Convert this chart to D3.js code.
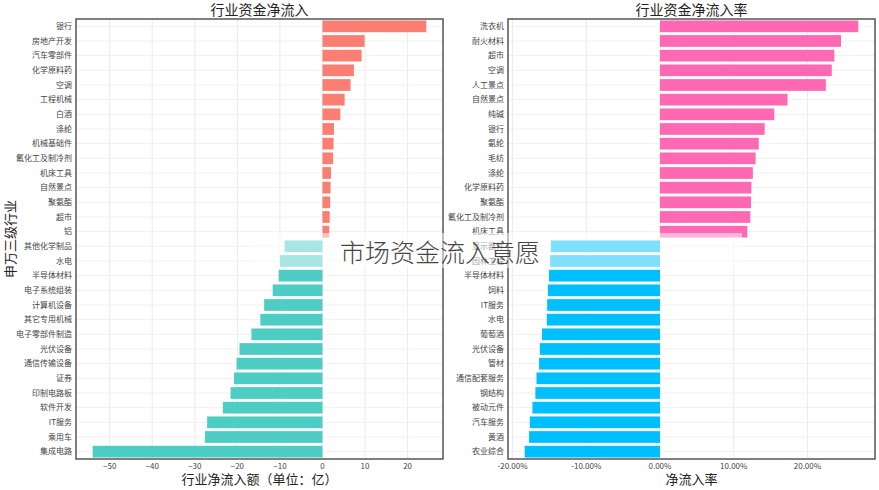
<!DOCTYPE html>
<html>
<head>
<meta charset="utf-8">
<script src="https://cdn.jsdelivr.net/npm/d3@7"></script>
<style>
body { margin: 0; background: #fff; }
text { font-family: "Noto Sans CJK SC", "Noto Sans", sans-serif; }
</style>
</head>
<body>
<div id="vis"></div>
<script>
var w = 879;
var h = 490;

// 行业资金净流入 (亿)
var flowNames = ["银行", "房地产开发", "汽车零部件", "化学原料药", "空调", "工程机械", "白酒", "涤纶",
	"机械基础件", "氟化工及制冷剂", "机床工具", "自然景点", "聚氨酯", "超市", "铝",
	"其他化学制品", "水电", "半导体材料", "电子系统组装", "计算机设备", "其它专用机械", "电子零部件制造",
	"光伏设备", "通信传输设备", "证券", "印制电路板", "软件开发", "IT服务", "乘用车", "集成电路"];
var flowValues = [24.4, 9.9, 9.2, 7.4, 6.6, 5.2, 4.2, 2.7, 2.6, 2.5, 2.0, 1.9, 1.8, 1.7, 1.6,
	-8.9, -10.0, -10.3, -11.7, -13.7, -14.6, -16.7, -19.5, -20.2, -20.8, -21.6, -23.4, -27.1, -27.6, -54.0];
var flowTicks = [-50, -40, -30, -20, -10, 0, 10, 20];

// 行业资金净流入率 (%)
var rateNames = ["洗衣机", "耐火材料", "超市", "空调", "人工景点", "自然景点", "纯碱", "银行", "氨纶",
	"毛纺", "涤纶", "化学原料药", "聚氨酯", "氟化工及制冷剂", "机床工具",
	"显示器件", "园林工程", "半导体材料", "饲料", "IT服务", "水电", "葡萄酒", "光伏设备", "管材",
	"通信配套服务", "钢结构", "被动元件", "汽车服务", "黄酒", "农业综合"];
var rateValues = [26.9, 24.55, 23.65, 23.3, 22.5, 17.3, 15.5, 14.2, 13.4, 12.97, 12.6, 12.4, 12.35, 12.25, 11.85,
	-14.8, -14.9, -15.05, -15.2, -15.3, -15.35, -16.0, -16.3, -16.4, -16.75, -16.9, -17.3, -17.65, -17.75, -18.35];
var rateTicks = [-20, -10, 0, 10, 20];

var svg = d3.select("#vis")
	.append("svg")
	.attr("width", w)
	.attr("height", h);

var plotTop = 19, plotBottom = 459;

function panel(opt) {
	var g = svg.append("g");
	var mn = d3.min(opt.values), mx = d3.max(opt.values);
	var pad = (mx - mn) * 0.05;
	var x = d3.scaleLinear().domain([mn - pad, mx + pad]).range([opt.x0, opt.x1]);
	var y = d3.scaleBand().domain(opt.names).range([plotTop, plotBottom]).paddingInner(0.2).paddingOuter(0.1);

	// grid
	g.selectAll(".vgrid")
		.data(opt.ticks)
		.enter()
		.append("line")
		.attr("x1", function(d) { return x(d); })
		.attr("x2", function(d) { return x(d); })
		.attr("y1", plotTop)
		.attr("y2", plotBottom)
		.attr("stroke", "#ebebeb")
		.attr("stroke-width", 1);
	g.selectAll(".hgrid")
		.data(opt.names)
		.enter()
		.append("line")
		.attr("x1", opt.x0)
		.attr("x2", opt.x1)
		.attr("y1", function(d) { return y(d) + y.bandwidth() / 2; })
		.attr("y2", function(d) { return y(d) + y.bandwidth() / 2; })
		.attr("stroke", "#f0f0f0")
		.attr("stroke-width", 1);

	// bars
	g.selectAll("rect.bar")
		.data(opt.values)
		.enter()
		.append("rect")
		.attr("class", "bar")
		.attr("x", function(d) { return x(Math.min(0, d)); })
		.attr("y", function(d, i) { return y(opt.names[i]); })
		.attr("width", function(d) { return Math.abs(x(d) - x(0)); })
		.attr("height", y.bandwidth())
		.attr("fill", function(d) { return d >= 0 ? opt.pos : opt.neg; });

	// frame
	g.append("rect")
		.attr("x", opt.x0)
		.attr("y", plotTop)
		.attr("width", opt.x1 - opt.x0)
		.attr("height", plotBottom - plotTop)
		.attr("fill", "none")
		.attr("stroke", "#555")
		.attr("stroke-width", 1.5);

	// y labels
	g.selectAll(".ylab")
		.data(opt.names)
		.enter()
		.append("text")
		.attr("x", opt.x0 - 4)
		.attr("y", function(d) { return y(d) + y.bandwidth() / 2; })
		.attr("dy", "0.35em")
		.attr("text-anchor", "end")
		.attr("fill", "#444")
		.style("font-size", "8px")
		.text(function(d) { return d; });

	// x tick labels
	g.selectAll(".xlab")
		.data(opt.ticks)
		.enter()
		.append("text")
		.attr("x", function(d) { return x(d); })
		.attr("y", plotBottom + 10)
		.attr("text-anchor", "middle")
		.attr("fill", "#444")
		.style("font-size", "8px")
		.text(opt.fmt);

	// title
	g.append("text")
		.attr("x", (opt.x0 + opt.x1) / 2)
		.attr("y", 15)
		.attr("text-anchor", "middle")
		.attr("fill", "#222")
		.style("font-size", "14px")
		.text(opt.title);

	// x axis label
	g.append("text")
		.attr("x", (opt.x0 + opt.x1) / 2)
		.attr("y", 484)
		.attr("text-anchor", "middle")
		.attr("fill", "#222")
		.style("font-size", "13px")
		.text(opt.xlabel);
}

panel({
	names: flowNames, values: flowValues, ticks: flowTicks,
	x0: 76, x1: 443, pos: "#fa7f72", neg: "#4ecdc4",
	title: "行业资金净流入", xlabel: "行业净流入额（单位：亿）",
	fmt: function(d) { return d < 0 ? "\u2212" + Math.abs(d) : d; }
});

panel({
	names: rateNames, values: rateValues, ticks: rateTicks,
	x0: 508, x1: 875, pos: "#ff69b4", neg: "#00bfff",
	title: "行业资金净流入率", xlabel: "净流入率",
	fmt: function(d) { return d.toFixed(2) + "%"; }
});

// y axis label
svg.append("text")
	.attr("transform", "translate(15,239) rotate(-90)")
	.attr("text-anchor", "middle")
	.attr("fill", "#222")
	.style("font-size", "13px")
	.text("申万三级行业");

// watermark box
svg.append("rect")
	.attr("x", 250)
	.attr("y", 233)
	.attr("width", 492)
	.attr("height", 35)
	.attr("fill", "#fff")
	.attr("fill-opacity", 0.5);

svg.append("text")
	.attr("x", 440)
	.attr("y", 262)
	.attr("text-anchor", "middle")
	.attr("fill", "#444")
	.style("font-size", "25px")
	.style("font-weight", "300")
	.text("市场资金流入意愿");
</script>
</body>
</html>
